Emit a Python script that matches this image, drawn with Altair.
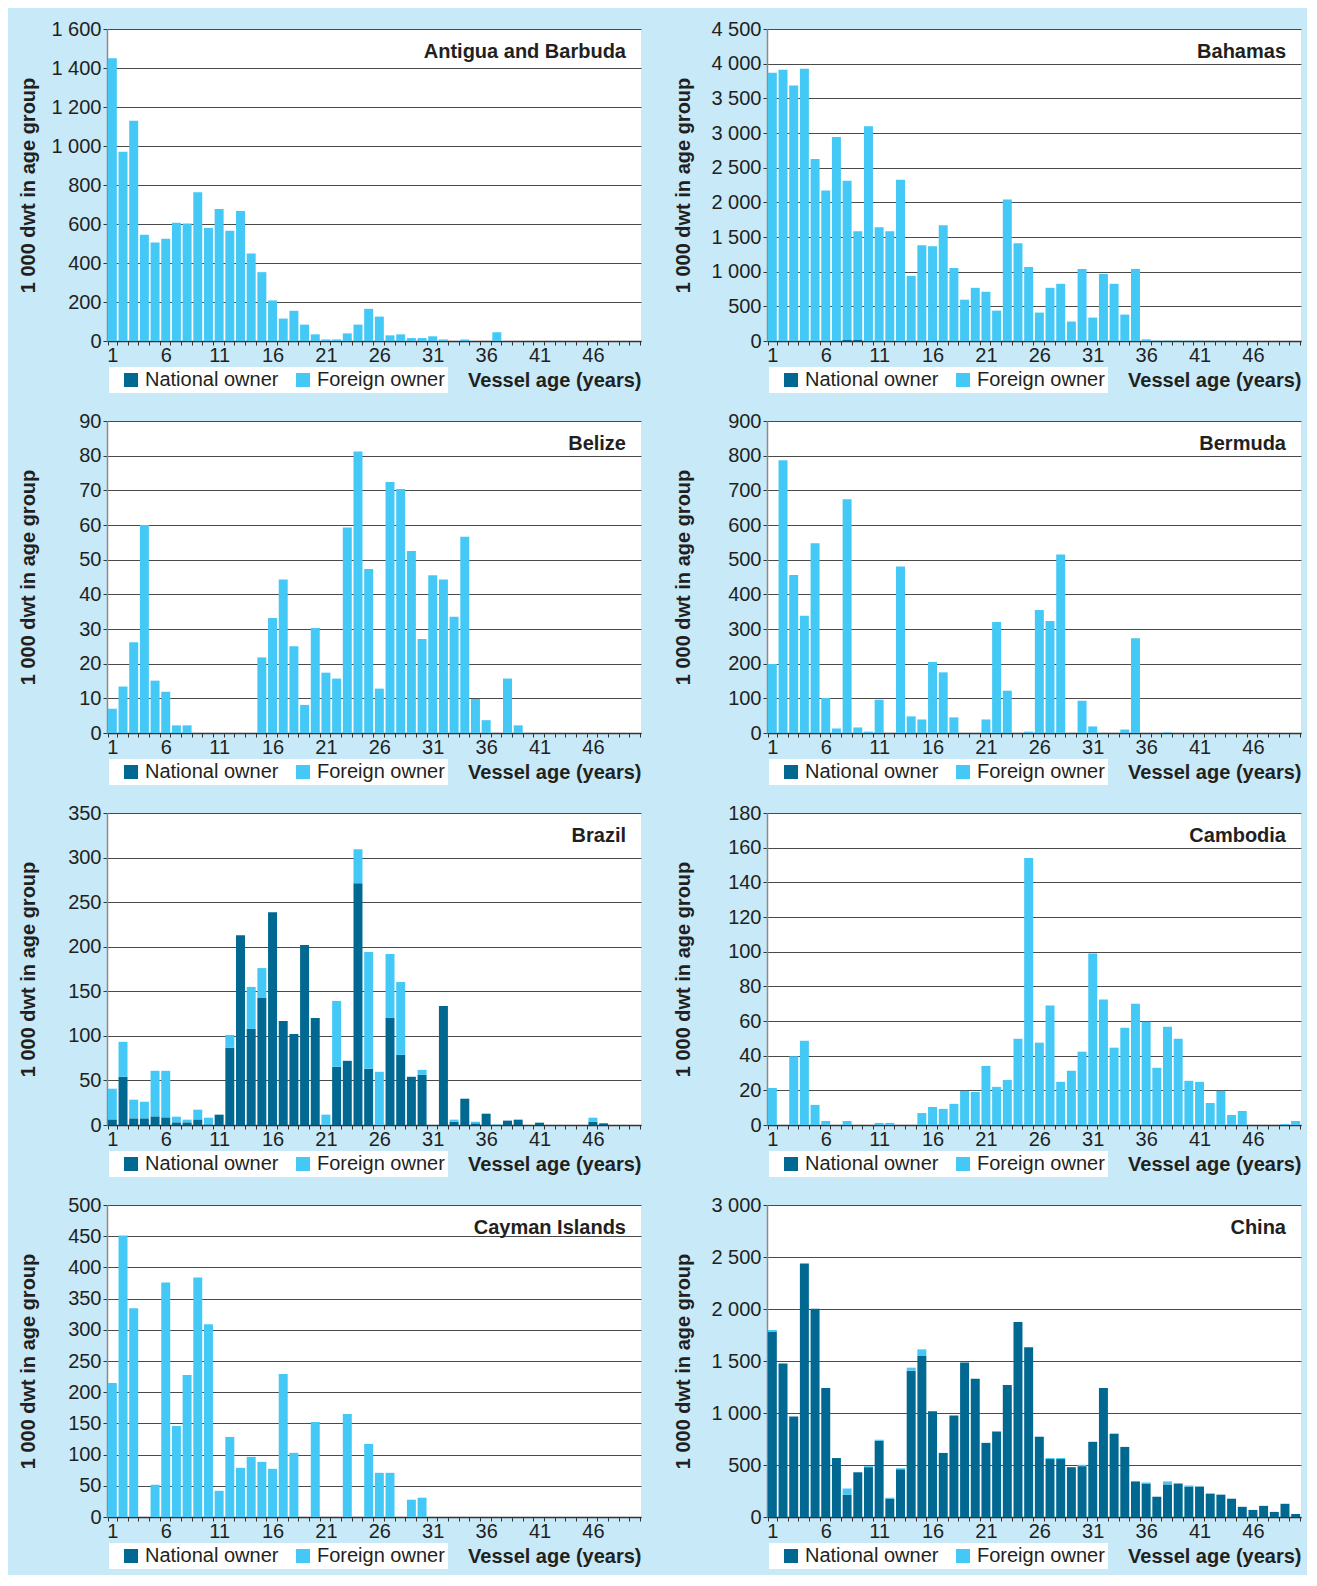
import altair as alt
import pandas as pd

AGES = list(range(1, 51))
OWNERS = ["National owner", "Foreign owner"]
OWNER_COLORS = ["#006891", "#44c8f5"]

Z = [0] * 50

ANTIGUA_NAT = Z
ANTIGUA_FOR = [1450, 970, 1130, 545, 505, 525, 606, 602, 763, 580,
               677, 565, 667, 449, 353, 208, 115, 155, 84, 34,
               8, 8, 39, 84, 165, 125, 29, 34, 15, 15,
               24, 8, 0, 8, 0, 0, 45, 0, 0, 0,
               0, 0, 0, 0, 0, 0, 0, 0, 0, 0]

BAHAMAS_NAT = [0, 0, 0, 0, 0, 0, 0, 15, 15, 0] + [0] * 40
BAHAMAS_FOR = [3870, 3913, 3684, 3927, 2626, 2169, 2941, 2297, 1567, 3098,
               1640, 1582, 2326, 939, 1382, 1368, 1668, 1053, 596, 767,
               710, 438, 2040, 1411, 1068, 410, 767, 825, 281, 1039,
               338, 968, 825, 381, 1039, 24, 5, 5, 5, 5,
               5, 3, 3, 3, 0, 0, 0, 0, 0, 0]

BELIZE_NAT = Z
BELIZE_FOR = [7, 13.4, 26.2, 60, 15.1, 11.9, 2.2, 2.2, 0, 0,
              0, 0, 0, 0, 21.8, 33.2, 44.3, 25, 8.1, 30.3,
              17.4, 15.7, 59.3, 81.2, 47.3, 12.8, 72.4, 70.4, 52.5, 27.1,
              45.5, 44.3, 33.5, 56.6, 9.8, 3.7, 0, 15.7, 2.2, 0,
              0, 0, 0, 0, 0, 0, 0, 0, 0, 0]

BERMUDA_NAT = Z
BERMUDA_FOR = [199, 787, 456, 338, 547, 101, 13, 674, 16, 4,
               96, 0, 480, 48, 39, 205, 175, 45, 0, 0,
               39, 320, 122, 0, 4, 355, 323, 515, 0, 93,
               19, 0, 0, 10, 273, 0, 0, 2, 0, 0,
               0, 0, 0, 0, 0, 0, 0, 0, 0, 0]

BRAZIL_NAT = [6.3, 54.1, 7.5, 7.5, 9.7, 8.6, 3, 3, 6.3, 0.7,
              11.6, 86.6, 213, 107.8, 142.5, 238.8, 116.8, 102.2, 201.9, 120.1,
              0, 65.3, 72, 271.3, 63, 0, 120.1, 78.7, 54.1, 56.3,
              0, 133.6, 3.7, 29.5, 1.9, 12.7, 0, 4.9, 6, 0,
              2.6, 0, 0, 0, 0, 3.7, 1.9, 0, 0, 0]
BRAZIL_FOR = [34.4, 39.2, 20.9, 18.6, 51.1, 52.2, 6.3, 3, 10.9, 7.5,
              0, 14.4, 0, 47.1, 33.5, 0, 0, 0, 0, 0,
              11.6, 73.9, 0, 38, 131, 59.7, 71.7, 81.7, 0, 5.6,
              0, 0, 2.3, 0, 1.8, 0, 0.7, 0, 0, 0,
              0, 0, 0, 0, 0, 4.5, 0, 0, 0, 0]

CAMBODIA_NAT = Z
CAMBODIA_FOR = [21.4, 0, 39.6, 48.6, 11.6, 2.3, 0, 2.3, 0, 0,
                1.2, 1.2, 0, 0, 6.9, 10.4, 9.3, 12.2, 19.7, 19.1,
                34.1, 22, 26, 49.8, 154, 47.5, 68.9, 24.9, 31.3, 42.3,
                99, 72.4, 44.6, 56.1, 70, 59.6, 33, 56.7, 49.8, 25.5,
                24.9, 12.7, 19.7, 5.8, 8.1, 0, 0, 0, 0.6, 2.3]

CAYMAN_NAT = Z
CAYMAN_FOR = [214.6, 451, 334.4, 0, 51.7, 376, 145.9, 227.4, 383.9, 308.8,
              42, 128.3, 78.8, 96.4, 88.4, 77.2, 229, 102.8, 0, 152.3,
              0, 0, 165, 0, 117.1, 70.8, 70.8, 0, 27.7, 30.9,
              0, 0, 0, 0, 0, 0, 0, 0, 0, 0,
              0, 0, 0, 0, 0, 0, 0, 0, 0, 0]

CHINA_NAT = [1778, 1476, 967, 2433, 2003, 1241, 567, 215, 430, 479,
             733, 176, 459, 1407, 1554, 1016, 616, 977, 1485, 1329,
             713, 821, 1270, 1876, 1632, 772, 557, 557, 479, 489,
             723, 1241, 801, 674, 342, 322, 195, 313, 322, 293,
             293, 225, 215, 176, 98, 68, 107, 49, 127, 29]
CHINA_FOR = [20, 0, 0, 10, 0, 0, 0, 59, 0, 10,
             10, 10, 10, 29, 58, 0, 0, 0, 0, 0,
             0, 0, 0, 0, 0, 0, 10, 10, 0, 13,
             0, 0, 0, 0, 0, 10, 0, 29, 0, 10,
             0, 0, 0, 0, 0, 0, 0, 0, 0, 0]

COUNTRIES = ["Antigua and Barbuda", "Bahamas", "Belize", "Bermuda",
             "Brazil", "Cambodia", "Cayman Islands", "China"]
NATIONAL = [ANTIGUA_NAT, BAHAMAS_NAT, BELIZE_NAT, BERMUDA_NAT,
            BRAZIL_NAT, CAMBODIA_NAT, CAYMAN_NAT, CHINA_NAT]
FOREIGN = [ANTIGUA_FOR, BAHAMAS_FOR, BELIZE_FOR, BERMUDA_FOR,
           BRAZIL_FOR, CAMBODIA_FOR, CAYMAN_FOR, CHINA_FOR]
Y_MAX = [1600, 4500, 90, 900, 350, 180, 500, 3000]
Y_STEP = [200, 500, 10, 100, 50, 20, 50, 500]

W = 534
H = 312
FONT = "Arial"
TXT = "#231f20"
BG = "#c7e9f8"


def panel(i):
    nat, frn = NATIONAL[i], FOREIGN[i]
    df = pd.DataFrame({
        "age": AGES + AGES,
        "owner": [OWNERS[0]] * 50 + [OWNERS[1]] * 50,
        "ord": [0] * 50 + [1] * 50,
        "value": list(nat) + list(frn),
    })
    tpad = 11 if i % 2 == 0 else 16
    bars = alt.Chart(df).mark_bar().encode(
        x=alt.X("age:O",
                scale=alt.Scale(domain=AGES, paddingInner=0.16, paddingOuter=0.08),
                axis=alt.Axis(title="Vessel age (years)", titleAnchor="end",
                              titleFont=FONT, titleFontSize=20, titleFontWeight="bold",
                              titleColor=TXT, titlePadding=4,
                              labelExpr="(datum.value - 1) % 5 == 0 ? datum.value : ''",
                              labelAngle=0, labelFont=FONT, labelFontSize=20,
                              labelColor=TXT, labelPadding=0,
                              tickBand="extent", tickSize=4, tickColor="#333333",
                              domainColor="#333333", domainWidth=1.5,
                              grid=False, minExtent=25, maxExtent=25)),
        y=alt.Y("value:Q", stack="zero",
                scale=alt.Scale(domain=[0, Y_MAX[i]], nice=False),
                axis=alt.Axis(title="1 000 dwt in age group",
                              values=list(range(0, Y_MAX[i] + 1, Y_STEP[i])),
                              labelExpr="replace(format(datum.value, ','), ',', ' ')",
                              titleFont=FONT, titleFontSize=20, titleFontWeight="bold",
                              titleColor=TXT, titlePadding=tpad,
                              labelFont=FONT, labelFontSize=20, labelColor=TXT,
                              labelPadding=2, tickSize=4, tickColor="#333333",
                              domainColor="#8a8a8a", domainWidth=1.5,
                              grid=True, gridColor="#4a4a4a", gridWidth=1,
                              minExtent=58, maxExtent=58)),
        color=alt.Color("owner:N",
                        scale=alt.Scale(domain=OWNERS, range=OWNER_COLORS),
                        legend=alt.Legend(title=None, orient="none",
                                          legendX=2, legendY=H + 26,
                                          direction="horizontal", columns=2,
                                          fillColor="white", padding=3,
                                          symbolType="square", symbolSize=196,
                                          symbolStrokeWidth=0, symbolOffset=9,
                                          labelFont=FONT, labelFontSize=20,
                                          labelColor=TXT, labelOffset=4,
                                          columnPadding=5)),
        order=alt.Order("ord:Q"),
    )
    label = alt.Chart(pd.DataFrame({"t": [COUNTRIES[i]]})).mark_text(
        align="right", baseline="middle", font=FONT, fontSize=20,
        fontWeight="bold", color=TXT
    ).encode(text="t:N", x=alt.value(W - 15), y=alt.value(23))
    return alt.layer(bars, label).properties(width=W, height=H)


chart = alt.concat(
    *[panel(i) for i in range(8)],
    columns=2,
    bounds="flush",
    spacing=alt.RowColnumber(row=80, column=126),
).resolve_scale(
    color="independent"
).resolve_legend(
    color="independent"
).properties(
    background=BG,
    padding={"left": 10, "top": 11, "right": 6, "bottom": 6},
).configure_view(
    fill="white", strokeWidth=0
)

chart.save("out.html", embed_options={"renderer": "svg", "actions": False})
